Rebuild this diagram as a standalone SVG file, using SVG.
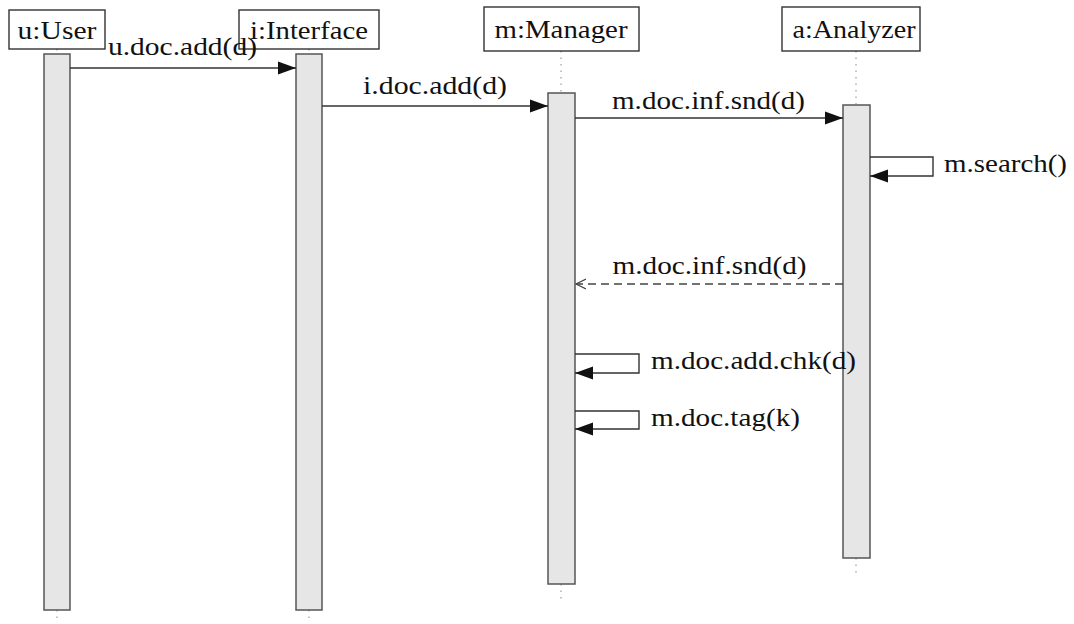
<svg xmlns="http://www.w3.org/2000/svg" width="1074" height="624" viewBox="0 0 1074 624">
<style>
.box{fill:#fff;stroke:#333;stroke-width:1.4}
.bar{fill:#e6e6e6;stroke:#555;stroke-width:1.5}
.life{stroke:#888;stroke-width:1;stroke-dasharray:1.5 5;fill:none}
.msg{stroke:#333;stroke-width:1.4;fill:none}
.ret{stroke:#444;stroke-width:1.3;fill:none;stroke-dasharray:8 5}
text{font-family:"Liberation Serif","Times New Roman",serif;font-size:26px;fill:#111}
.c{text-anchor:middle}
</style>
<defs>
<marker id="fill" markerUnits="userSpaceOnUse" markerWidth="19" markerHeight="16" refX="18" refY="8" orient="auto">
<path d="M0,1.5 L18,8 L0,14.5 Z" fill="#111"/>
</marker>
<marker id="open" markerUnits="userSpaceOnUse" markerWidth="12" markerHeight="12" refX="10" refY="6" orient="auto">
<path d="M0,1 L10,6 L0,11" fill="none" stroke="#444" stroke-width="1.2"/>
</marker>
</defs>

<g id="lifelines">
<line class="life" x1="57" y1="49" x2="57" y2="54"/>
<line class="life" x1="57" y1="610" x2="57" y2="622"/>
<line class="life" x1="309" y1="49" x2="309" y2="54"/>
<line class="life" x1="309" y1="610" x2="309" y2="622"/>
<line class="life" x1="561" y1="51" x2="561" y2="92"/>
<line class="life" x1="561" y1="584" x2="561" y2="602"/>
<line class="life" x1="856" y1="51" x2="856" y2="105"/>
<line class="life" x1="856" y1="558" x2="856" y2="574"/>
</g>

<g id="user">
<rect class="box" x="9" y="10" width="96" height="39"/>
<text class="c" x="57" y="39" textLength="79" lengthAdjust="spacingAndGlyphs">u:User</text>
<rect class="bar" x="44" y="54" width="26" height="556"/>
</g>
<g id="interface">
<rect class="box" x="239" y="10" width="140" height="39"/>
<text class="c" x="309" y="39" textLength="118" lengthAdjust="spacingAndGlyphs">i:Interface</text>
<rect class="bar" x="296" y="54" width="26" height="556"/>
</g>
<g id="manager">
<rect class="box" x="484" y="7" width="155" height="44"/>
<text class="c" x="561" y="38" textLength="133" lengthAdjust="spacingAndGlyphs">m:Manager</text>
<rect class="bar" x="548" y="93" width="27" height="491"/>
</g>
<g id="analyzer">
<rect class="box" x="782" y="7" width="138" height="44"/>
<text class="c" x="854" y="38" textLength="123" lengthAdjust="spacingAndGlyphs">a:Analyzer</text>
<rect class="bar" x="843" y="105" width="27" height="453"/>
</g>

<g id="connectors">
<line class="msg" x1="70" y1="68" x2="296" y2="68" marker-end="url(#fill)"/>
<text class="c" x="182.5" y="55" textLength="149" lengthAdjust="spacingAndGlyphs">u.doc.add(d)</text>

<line class="msg" x1="322" y1="106" x2="548" y2="106" marker-end="url(#fill)"/>
<text class="c" x="435" y="94" textLength="144" lengthAdjust="spacingAndGlyphs">i.doc.add(d)</text>

<line class="msg" x1="575" y1="118" x2="843" y2="118" marker-end="url(#fill)"/>
<text class="c" x="708.5" y="109" textLength="193" lengthAdjust="spacingAndGlyphs">m.doc.inf.snd(d)</text>

<polyline class="msg" points="870,157 933,157 933,176 870,176" marker-end="url(#fill)"/>
<text x="944" y="172" textLength="123" lengthAdjust="spacingAndGlyphs">m.search()</text>

<line class="ret" x1="843" y1="284" x2="576" y2="284" marker-end="url(#open)"/>
<text class="c" x="709.5" y="274" textLength="194" lengthAdjust="spacingAndGlyphs">m.doc.inf.snd(d)</text>

<polyline class="msg" points="575,354 639,354 639,373 575,373" marker-end="url(#fill)"/>
<text x="651" y="369" textLength="205" lengthAdjust="spacingAndGlyphs">m.doc.add.chk(d)</text>

<polyline class="msg" points="575,411 639,411 639,429 575,429" marker-end="url(#fill)"/>
<text x="651" y="426" textLength="149" lengthAdjust="spacingAndGlyphs">m.doc.tag(k)</text>
</g>
</svg>
